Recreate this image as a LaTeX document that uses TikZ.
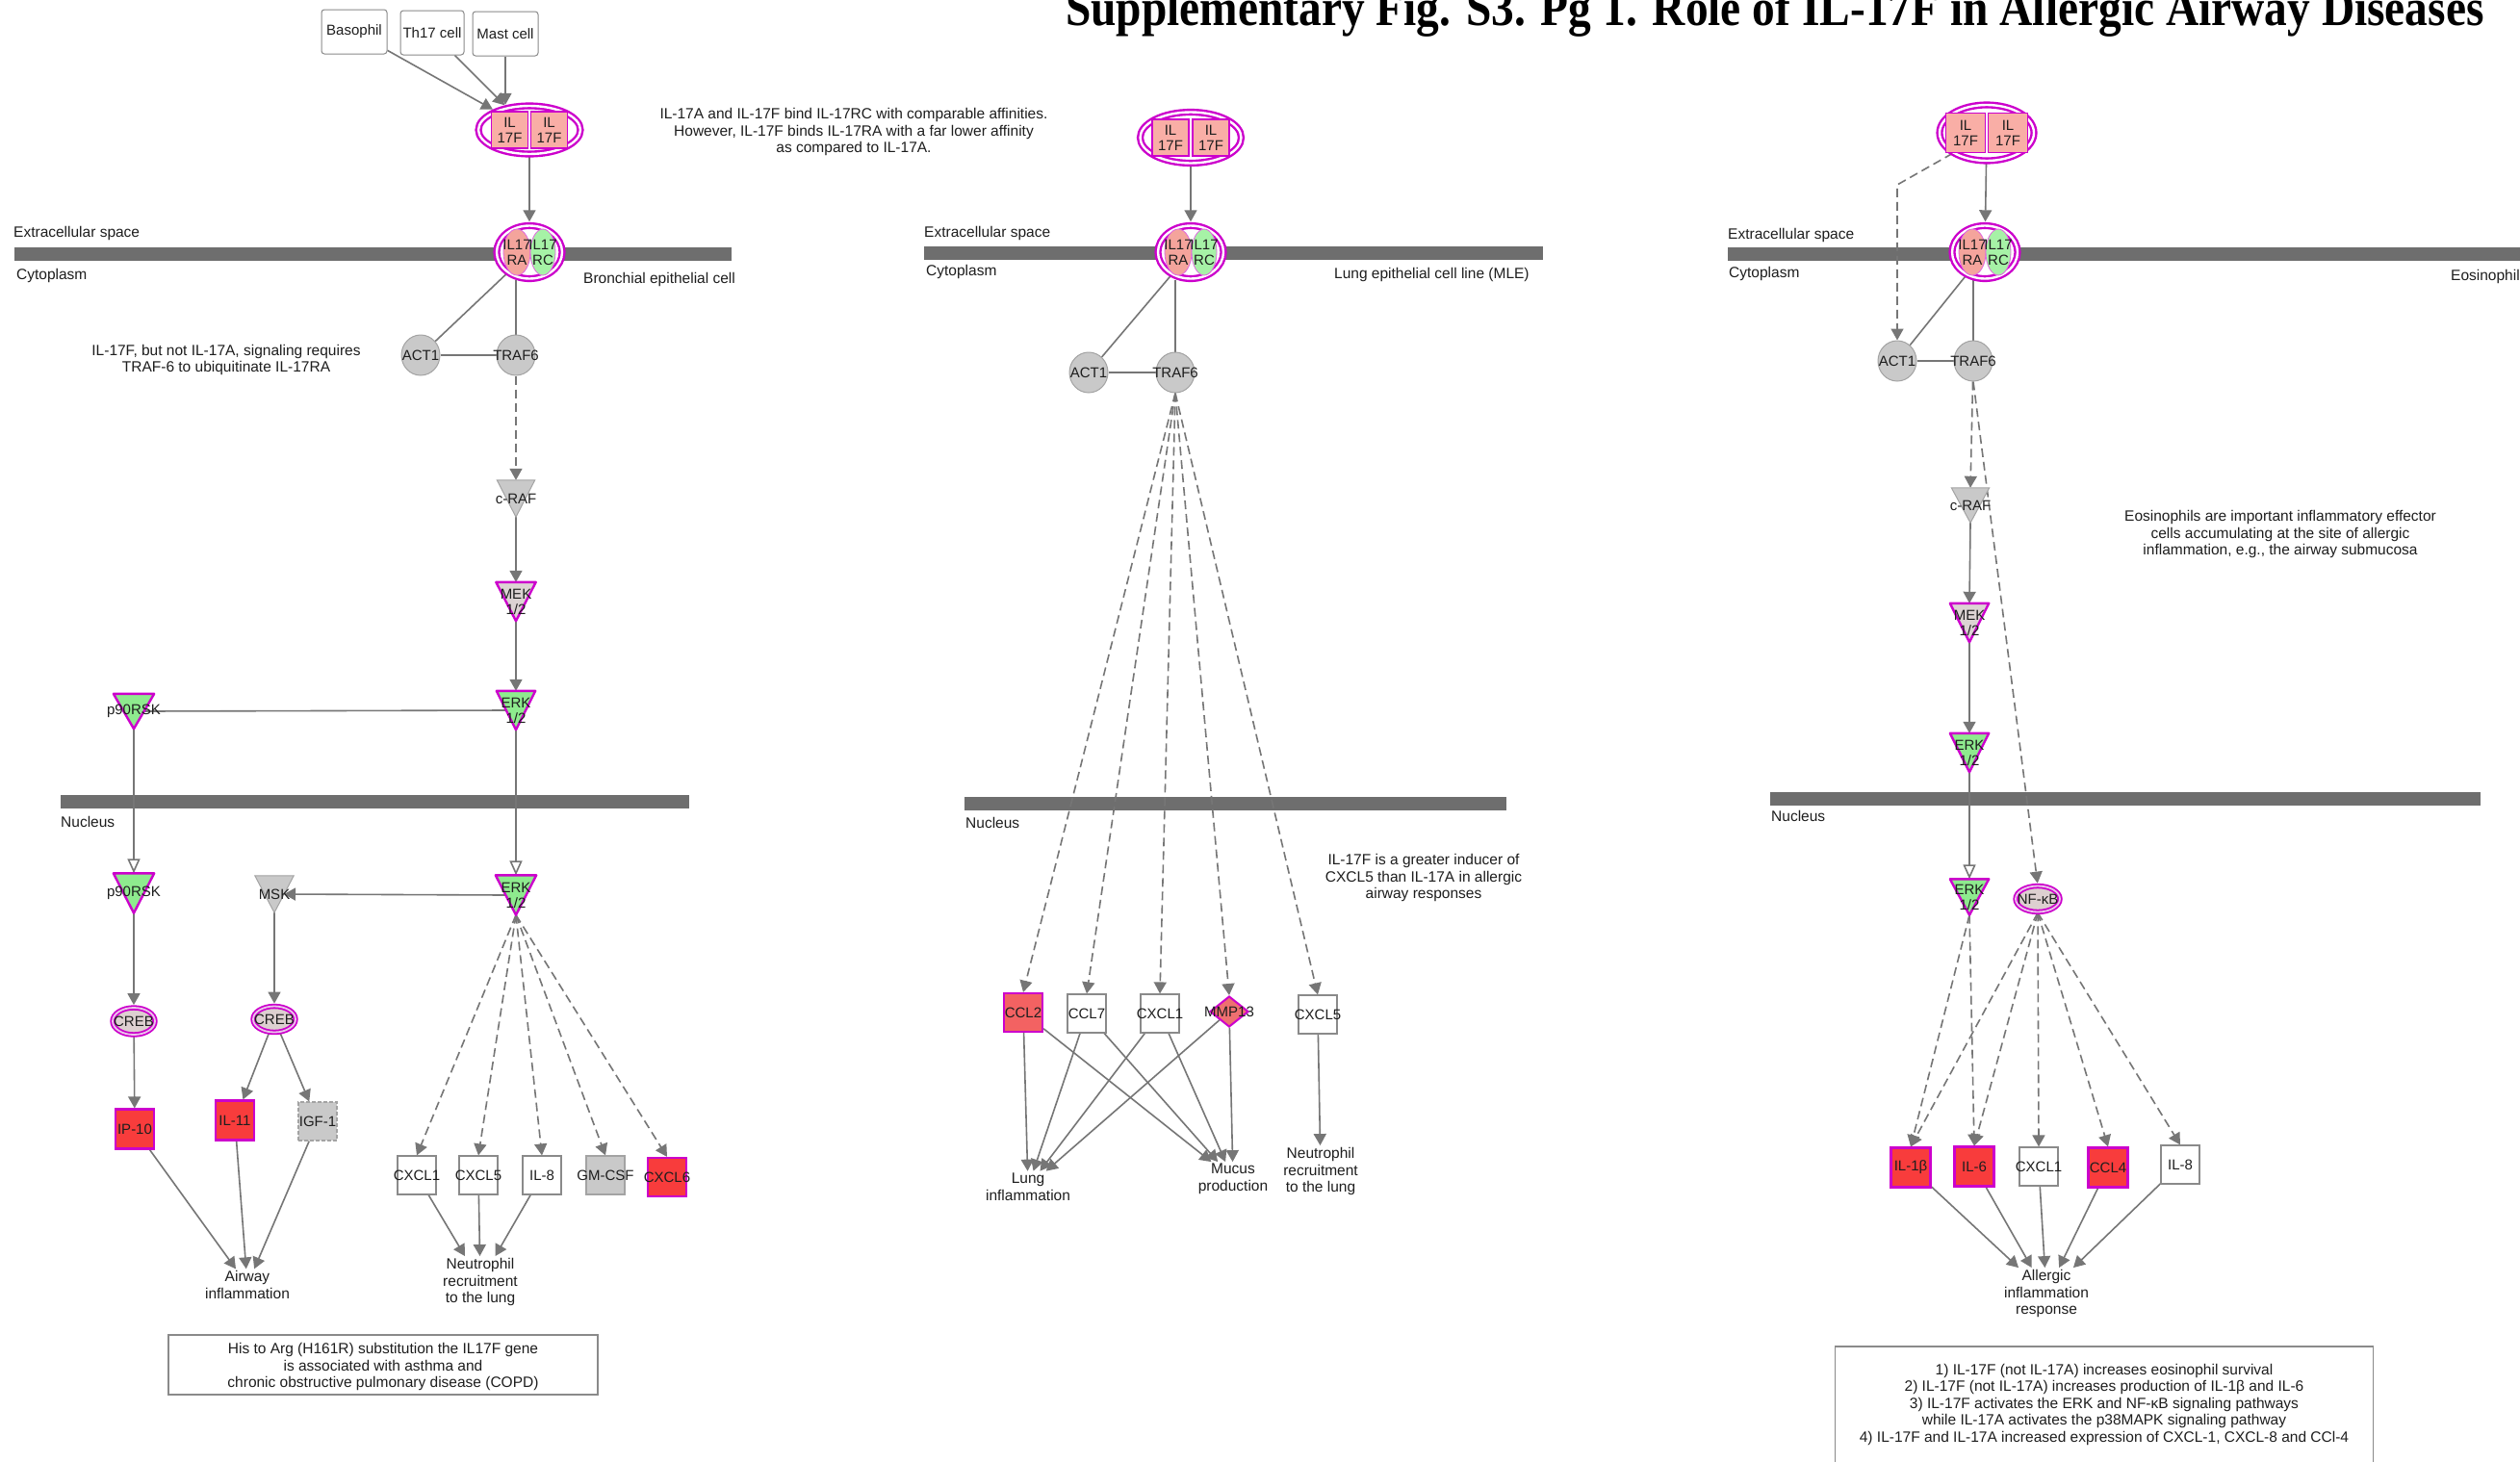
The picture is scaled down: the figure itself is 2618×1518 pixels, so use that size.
\documentclass[tikz,border=0pt]{standalone}
\usepackage{graphicx}
\usepackage{fontspec}
\setmainfont{Liberation Sans}
\newfontfamily\titlefont{Liberation Serif}
\usetikzlibrary{arrows.meta,shapes.geometric,calc}
\pgfdeclarelayer{back}
\pgfdeclarelayer{edges}
\pgfsetlayers{back,edges,main}

\definecolor{linec}{HTML}{767676}
\definecolor{barc}{HTML}{6E6E6E}
\definecolor{mag}{HTML}{CC00CC}
\definecolor{txt}{HTML}{1E1E1E}
\definecolor{boxline}{HTML}{8A8A8A}
\definecolor{redf}{HTML}{F83C3C}
\definecolor{ccltwof}{HTML}{F36262}
\definecolor{mmpf}{HTML}{EE7070}
\definecolor{ilpink}{HTML}{F9AEA6}
\definecolor{rapink}{HTML}{F4A49C}
\definecolor{rcgreen}{HTML}{A6F2A6}
\definecolor{grayf}{HTML}{C9C9C9}
\definecolor{grayb}{HTML}{A3A3A3}
\definecolor{kgreen}{HTML}{8EEB8E}
\definecolor{mekf}{HTML}{DCD3D3}
\definecolor{tff}{HTML}{DDD0D0}
\definecolor{tfring}{HTML}{EBC4EB}

\tikzset{
  conn/.style={draw=linec, line width=1.6pt},
  arr/.style={conn, -{Triangle[length=12pt,width=13pt]}},
  darr/.style={arr, dash pattern=on 9pt off 5pt},
  oarr/.style={conn, -{Triangle[open,length=15pt,width=13pt,fill=white]}},
  lbl/.style={font=\fontsize{15}{16}\selectfont, text=txt, align=center, inner sep=0pt},
  note/.style={font=\fontsize{15.5}{17.5}\selectfont, text=txt, align=center, inner sep=0pt},
  fn/.style={font=\fontsize{15.5}{17.5}\selectfont, text=txt, align=center, inner sep=2pt},
  comp/.style={font=\fontsize{15.5}{17}\selectfont, text=txt, anchor=west, inner sep=0pt},
  cell/.style={rectangle, rounded corners=3pt, draw=boxline, line width=1pt, fill=white,
    minimum width=68, minimum height=46, inner sep=0pt},
  gene/.style={rectangle, draw=boxline, line width=1.2pt, fill=white,
    minimum width=40, minimum height=40, inner sep=0pt},
  redgene/.style={gene, fill=redf, draw=mag, line width=2.2pt},
  graygene/.style={gene, fill=grayf, draw=grayb},
  enzyme/.style={ellipse, fill=grayf, draw=grayb, line width=1pt,
    minimum width=40, minimum height=42, inner sep=0pt},
  tf/.style={ellipse, draw=mag, line width=1.8pt, double=tfring, double distance=1.8pt,
    fill=tff, inner sep=0pt},
  cplx/.style={ellipse, draw=mag, line width=2.4pt, double=white, double distance=2.4pt,
    fill=white, inner sep=0pt},
  ilbox/.style={rectangle, fill=ilpink, draw=mag, line width=1.8pt, inner sep=0pt,
    font=\fontsize{15}{16}\selectfont, align=center, text=txt},
  tribox/.style={rectangle, inner sep=0pt},
  magk/.style={draw=mag, line width=2.4pt, line join=round},
  grayk/.style={draw=grayb, line width=1pt},
  notebox/.style={rectangle, draw=boxline, line width=1.2pt, fill=white, inner sep=0pt},
}

% molecule node with a separate centred label
\newcommand\nd[4]{\node[#1] (#2) at #3 {}; \node[lbl] (#2-t) at (#2.center) {#4};}
% kinase: downward triangle
\newcommand\kin[7]{%
  \node[tribox, minimum width=#3, minimum height=#4] (#1) at #2 {};
  \filldraw[#6, fill=#5] (#1.north west) -- (#1.north east) -- (#1.south) -- cycle;
  \node[lbl] (#1-t) at (#1.center) {#7};}
% IL-17F homodimer complex
\newcommand\dimer[6]{%
  \node[cplx, minimum width=#3, minimum height=#4] (#1) at #2 {};
  \node[ilbox, minimum width=#6, minimum height=#6] (#1-a) at ($(#1.center)+(-#5,0)$) {IL\\17F};
  \node[ilbox, minimum width=#6, minimum height=#6] (#1-b) at ($(#1.center)+(#5,0)$) {IL\\17F};}
% IL-17RA/RC receptor complex
\newcommand\recep[2]{%
  \node[cplx, minimum width=68, minimum height=55] (#1) at #2 {};
  \filldraw[fill=rapink, draw=mag!60, line width=0.8pt] ($(#1.center)+(-13,0)$) ellipse [x radius=14pt, y radius=24pt];
  \filldraw[fill=rcgreen, draw=mag!60, line width=0.8pt] ($(#1.center)+(14,0)$) ellipse [x radius=13pt, y radius=24pt];
  \node[lbl] (#1-a) at ($(#1.center)+(-13,0)$) {IL17\\RA};
  \node[lbl] (#1-b) at ($(#1.center)+(14,0)$) {IL17\\RC};}

\begin{document}
\begin{tikzpicture}[x=1pt,y=-1pt]
\useasboundingbox (0,0) rectangle (2618,1518);

\begin{pgfonlayer}{back}
  \fill[white] (0,0) rectangle (2618,1518);
  % membranes
  \fill[barc] (15,257) rectangle (760,271);
  \fill[barc] (63,826) rectangle (716,840);
  \fill[barc] (960,256) rectangle (1603,270);
  \fill[barc] (1002,828) rectangle (1565,842);
  \fill[barc] (1795,257) rectangle (2618,271);
  \fill[barc] (1839,823) rectangle (2577,837);
\end{pgfonlayer}

% title
\node[anchor=base west, inner sep=0pt] (title) at (1107,26)
  {\resizebox{1473pt}{38pt}{\titlefont\bfseries Supplementary Fig. S3. Pg 1. Role of IL-17F in Allergic Airway Diseases}};

% compartment labels
\node[comp] (ecsa) at (14,242) {Extracellular space};
\node[comp] (cyta) at (17,286) {Cytoplasm};
\node[comp] (cella) at (606,290) {Bronchial epithelial cell};
\node[comp] (nuca) at (63,854) {Nucleus};
\node[comp] (ecsb) at (960,242) {Extracellular space};
\node[comp] (cytb) at (962,282) {Cytoplasm};
\node[comp] (cellb) at (1386,285) {Lung epithelial cell line (MLE)};
\node[comp] (nucb) at (1003,855) {Nucleus};
\node[comp] (ecsc) at (1795,244) {Extracellular space};
\node[comp] (cytc) at (1796,284) {Cytoplasm};
\node[comp] (cellc) at (2546,287) {Eosinophil};
\node[comp] (nucc) at (1840,848) {Nucleus};

% notes
\node[note] (notea) at (235,374) {IL-17F, but not IL-17A, signaling requires\\TRAF-6 to ubiquitinate IL-17RA};
\node[note] (noteb) at (887,137) {IL-17A and IL-17F bind IL-17RC with comparable affinities.\\However, IL-17F binds IL-17RA with a far lower affinity\\as compared to IL-17A.};
\node[note] (notec) at (1479,912) {IL-17F is a greater inducer of\\CXCL5 than IL-17A in allergic\\airway responses};
\node[note] (noted) at (2369,555) {Eosinophils are important inflammatory effector\\cells accumulating at the site of allergic\\inflammation, e.g., the airway submucosa};

% ---------------- bronchial epithelial cell
\nd{cell}{baso}{(368,33)}{Basophil}
\nd{cell, minimum width=66}{th17}{(449,34)}{Th17 cell}
\nd{cell}{mast}{(525,35)}{Mast cell}
\dimer{cxa}{(550,135)}{106}{50}{20.5}{38}
\recep{rxa}{(550,262)}
\nd{enzyme}{acta}{(437,369)}{ACT1}
\nd{enzyme}{trafa}{(536,369)}{TRAF6}
\kin{rafa}{(536,518)}{39}{38}{grayf}{grayk}{c-RAF}
\kin{meka}{(536,625)}{41}{40}{mekf}{magk}{MEK\\1/2}
\kin{erka}{(536,738)}{40}{40}{kgreen}{magk}{ERK\\1/2}
\kin{rska}{(139,739)}{42}{36}{kgreen}{magk}{p90RSK}
\kin{rskb}{(139,928)}{42}{41}{kgreen}{magk}{p90RSK}
\kin{msk}{(285,929)}{40}{38}{grayf}{grayk}{MSK}
\kin{erkb}{(536,930)}{42}{41}{kgreen}{magk}{ERK\\1/2}
\nd{tf, minimum width=44, minimum height=28}{creba}{(139,1061)}{CREB}
\nd{tf, minimum width=44, minimum height=27}{crebb}{(285,1059)}{CREB}
\nd{redgene, minimum height=41}{ipten}{(140,1173)}{IP-10}
\nd{redgene, minimum height=41}{ileleven}{(244,1164)}{IL-11}
\nd{graygene, dash pattern=on 4pt off 2pt}{igf}{(330,1165)}{IGF-1}
\node[fn] (airway) at (257,1335) {Airway\\inflammation};
\nd{gene}{cxclonea}{(433,1221)}{CXCL1}
\nd{gene}{cxclfivea}{(497,1221)}{CXCL5}
\nd{gene}{ileighta}{(563,1221)}{IL-8}
\nd{graygene}{gmcsf}{(629,1221)}{GM-CSF}
\nd{redgene}{cxclsix}{(693,1223)}{CXCL6}
\node[fn] (neutroa) at (499,1332) {Neutrophil\\recruitment\\to the lung};
\node[notebox, minimum width=446, minimum height=62] (boxa) at (398,1418) {};
\node[note] (boxa-t) at (398,1420) {His to Arg (H161R) substitution the IL17F gene\\is associated with asthma and\\chronic obstructive pulmonary disease (COPD)};

% ---------------- lung epithelial cell line
\dimer{cxb}{(1237,143)}{105}{53}{21}{38}
\recep{rxb}{(1237,262)}
\nd{enzyme}{actb}{(1131,387)}{ACT1}
\nd{enzyme}{trafb}{(1221,387)}{TRAF6}
\nd{redgene, fill=ccltwof}{ccltwo}{(1063,1052)}{CCL2}
\nd{gene}{cclseven}{(1129,1053)}{CCL7}
\nd{gene}{cxcloneb}{(1205,1053)}{CXCL1}
\nd{diamond, fill=mmpf, draw=mag, line width=2pt, minimum width=40, minimum height=32, inner sep=0pt}{mmp}{(1277,1051)}{MMP13}
\nd{gene}{cxclfiveb}{(1369,1054)}{CXCL5}
\node[fn] (lung) at (1068,1233) {Lung\\inflammation};
\node[fn] (mucus) at (1281,1225) {Mucus\\production};
\node[fn] (neutrob) at (1372,1217) {Neutrophil\\recruitment\\to the lung};

% ---------------- eosinophil
\dimer{cxc}{(2064,138)}{98}{58}{22}{41}
\recep{rxc}{(2062,262)}
\nd{enzyme}{actc}{(1971,375)}{ACT1}
\nd{enzyme}{trafc}{(2050,375)}{TRAF6}
\coordinate (bendc) at (1971,192);
\kin{rafc}{(2047,525)}{39}{36}{grayf}{grayk}{c-RAF}
\kin{mekc}{(2046,647)}{40}{40}{mekf}{magk}{MEK\\1/2}
\kin{erkc}{(2046,782)}{40}{40}{kgreen}{magk}{ERK\\1/2}
\kin{erkd}{(2046,932)}{40}{37}{kgreen}{magk}{ERK\\1/2}
\nd{tf, minimum width=46, minimum height=27}{nfkb}{(2117,934)}{NF-κB}
\nd{redgene, minimum width=41, minimum height=41}{ilonebeta}{(1985,1213)}{IL-1β}
\nd{redgene, minimum width=41, minimum height=41}{ilsix}{(2051,1212)}{IL-6}
\nd{gene}{cxclonec}{(2118,1212)}{CXCL1}
\nd{redgene, minimum width=41, minimum height=41}{cclfour}{(2190,1213)}{CCL4}
\nd{gene}{ileightc}{(2265,1210)}{IL-8}
\node[fn] (allergic) at (2126,1344) {Allergic\\inflammation\\response};
\node[notebox, minimum width=559, minimum height=140] (boxc) at (2186,1469) {};
\node[note] (boxc-t) at (2186,1459) {1) IL-17F (not IL-17A) increases eosinophil survival\\2) IL-17F (not IL-17A) increases production of IL-1β and IL-6\\3) IL-17F activates the ERK and NF-κB signaling pathways\\while IL-17A activates the p38MAPK signaling pathway\\4) IL-17F and IL-17A increased expression of CXCL-1, CXCL-8 and CCl-4};

% ---------------- connectors
\begin{pgfonlayer}{edges}
  % bronchial epithelial cell
  \draw[arr, shorten >=3pt] (baso) -- (cxa);
  \draw[arr, shorten >=3pt] (th17) -- (cxa);
  \draw[arr] (mast.south) -- (mast.south |- cxa.north);
  \draw[arr, shorten >=3pt] (cxa) -- (rxa);
  \draw[conn] (rxa) -- (acta);
  \draw[conn] (trafa |- rxa.south) -- (trafa);
  \draw[conn] (acta) -- (trafa);
  \draw[darr] (trafa) -- (rafa.north);
  \draw[arr] (rafa.south) -- (meka.north);
  \draw[arr] (meka.south) -- (erka.north);
  \draw[conn] ($(erka.center)+(-10,0)$) -- ($(rska.center)+(10,0)$);
  \draw[oarr] (rska.south) -- (rskb.north);
  \draw[oarr] (erka.south) -- (erkb.north);
  \draw[arr] ($(erkb.center)+(-10,0)$) -- ($(msk.center)+(10,0)$);
  \draw[arr, shorten >=2pt] (rskb.south) -- (creba);
  \draw[arr, shorten >=2pt] (msk.south) -- (crebb);
  \draw[arr] (creba) -- (ipten);
  \draw[arr] (crebb) -- (ileleven);
  \draw[arr] (crebb) -- (igf);
  \foreach \nn in {ipten, ileleven, igf} \draw[arr] (\nn) -- (airway);
  \foreach \nn in {cxclonea, cxclfivea, ileighta, gmcsf, cxclsix} \draw[darr] (erkb.south) -- (\nn.north);
  \foreach \nn in {cxclonea, cxclfivea, ileighta} \draw[arr] (\nn) -- (neutroa);
  % lung epithelial cell line
  \draw[arr, shorten >=3pt] (cxb) -- (rxb);
  \draw[conn] (rxb) -- (actb);
  \draw[conn] (trafb |- rxb.south) -- (trafb);
  \draw[conn] (actb) -- (trafb);
  \foreach \nn in {ccltwo, cclseven, cxcloneb, mmp, cxclfiveb} \draw[darr] (trafb.south) -- (\nn.north);
  \foreach \nn in {ccltwo, cclseven, cxcloneb, mmp} {\draw[arr] (\nn) -- (lung); \draw[arr] (\nn) -- (mucus);}
  \draw[arr] (cxclfiveb) -- (neutrob);
  % eosinophil
  \draw[darr] (cxc.south west) -- (bendc) -- (actc.north);
  \draw[arr, shorten >=3pt] (cxc) -- (rxc);
  \draw[conn] (rxc) -- (actc);
  \draw[conn] (trafc |- rxc.south) -- (trafc);
  \draw[conn] (actc) -- (trafc);
  \draw[darr] (trafc) -- (rafc.north);
  \draw[darr, shorten >=2pt] (trafc.south) -- (nfkb.north);
  \draw[arr] (rafc.south) -- (mekc.north);
  \draw[arr] (mekc.south) -- (erkc.north);
  \draw[oarr] (erkc.south) -- (erkd.north);
  \draw[darr] (erkd.south) -- (ilonebeta.north);
  \draw[darr] (erkd.south) -- (ilsix.north);
  \foreach \nn in {ilonebeta, ilsix, cxclonec, cclfour, ileightc} \draw[darr] (nfkb.south) -- (\nn.north);
  \foreach \nn in {ilonebeta, ilsix, cxclonec, cclfour, ileightc} \draw[arr] (\nn) -- (allergic);
\end{pgfonlayer}
\end{tikzpicture}
\end{document}
